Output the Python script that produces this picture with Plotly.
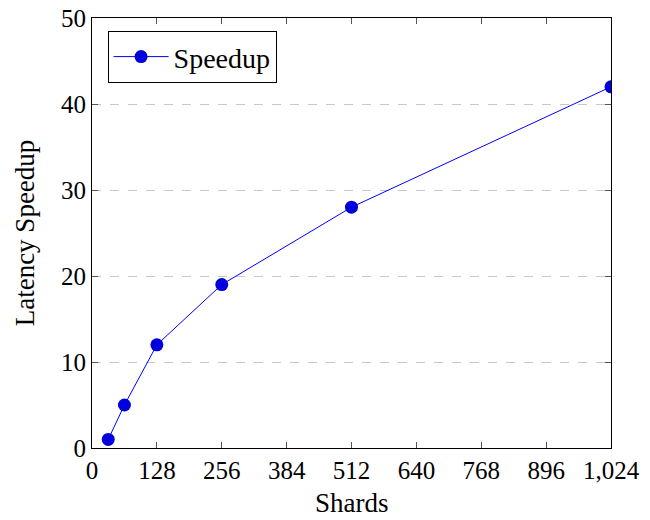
import plotly.graph_objects as go

shards = [32, 64, 128, 256, 512, 1024]
speedup = [1, 5, 12, 19, 28, 42]
x_ticks = [0, 128, 256, 384, 512, 640, 768, 896, 1024]
x_tick_labels = ["0", "128", "256", "384", "512", "640", "768", "896", "1,024"]
y_ticks = [0, 10, 20, 30, 40, 50]

font = "Liberation Serif"

fig = go.Figure()
fig.add_trace(go.Scatter(
    x=shards, y=speedup, mode="lines+markers", name="Speedup",
    line=dict(color="#0000ff", width=1),
    marker=dict(color="#0000dd", size=13),
))

fig.update_layout(
    width=650, height=520,
    margin=dict(l=92, r=39, t=18, b=72, autoexpand=False),
    paper_bgcolor="white", plot_bgcolor="white",
    font=dict(family=font, size=25, color="black"),
    showlegend=True,
    legend=dict(x=0.03, y=0.97, xanchor="left", yanchor="top",
                bordercolor="black", borderwidth=1, bgcolor="white",
                itemwidth=55, font=dict(family=font, size=28)),
    xaxis=dict(
        range=[0, 1024], tickmode="array", tickvals=x_ticks, ticktext=x_tick_labels,
        ticks="inside", ticklen=6, tickcolor="#555", mirror="ticks",
        showline=True, linecolor="black", linewidth=1, showgrid=False, zeroline=False,
        automargin=False, ticklabeloverflow="allow",
        tickfont=dict(family=font, size=25),
    ),
    yaxis=dict(
        range=[0, 50], tickmode="array", tickvals=y_ticks,
        ticks="inside", ticklen=6, tickcolor="#555", mirror="ticks",
        showline=True, linecolor="black", linewidth=1,
        showgrid=True, gridcolor="#c8c8c8", griddash="dash", gridwidth=1, zeroline=False,
        automargin=False, ticklabeloverflow="allow",
        title=dict(text="Latency Speedup", font=dict(family=font, size=27), standoff=18),
        tickfont=dict(family=font, size=25),
    ),
    annotations=[dict(text="Shards", xref="paper", yref="paper", x=0.5, y=-0.128,
                      xanchor="center", yanchor="middle", showarrow=False,
                      font=dict(family=font, size=27))],
)

fig.write_html("out.html", post_script="document.body.style.margin='0';",
               config={"displayModeBar": False})
